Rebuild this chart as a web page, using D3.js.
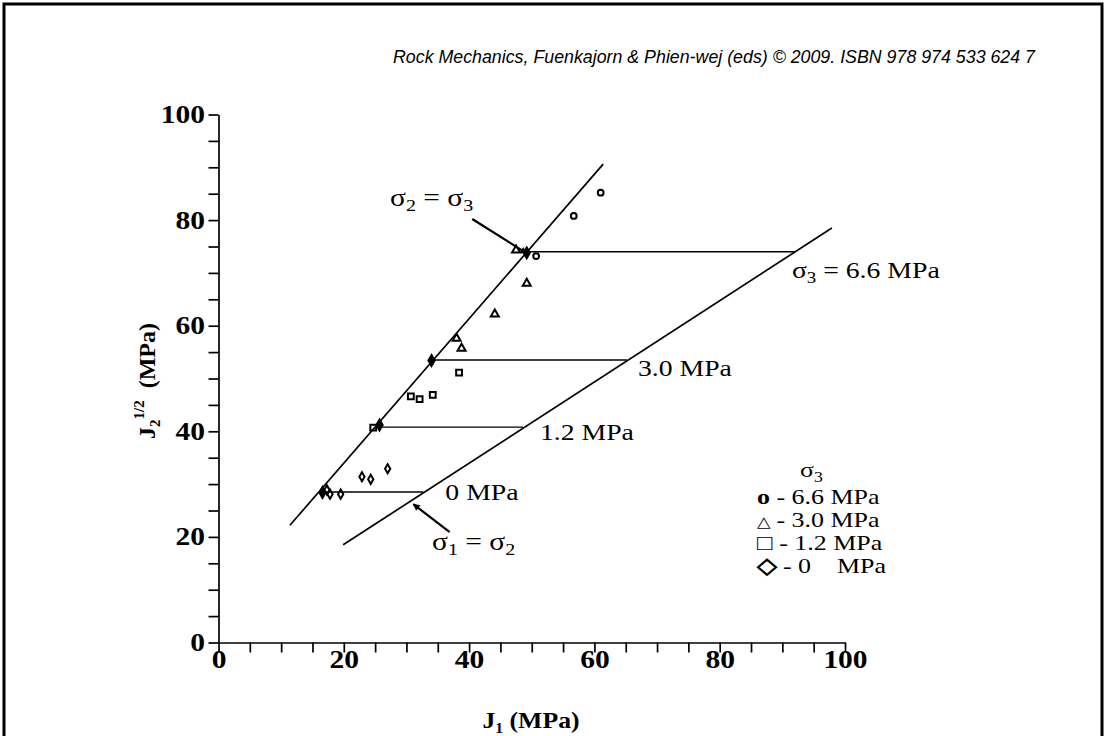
<!DOCTYPE html>
<html lang="en">
<head>
<meta charset="UTF-8">
<title>J1 - J2^1/2 stress paths</title>
<script src="https://d3js.org/d3.v7.min.js"></script>
<style>
  body { margin: 0; background: #fff; }
  svg text { fill: #000; }
</style>
</head>
<body>
<div id="chart"></div>
<script>
// test points, one array per confining pressure (J1, J2^1/2 in MPa)
const pts66 = [[50.7, 73.2], [56.7, 80.8], [61.0, 85.2]];
const pts30 = [[38.0, 57.6], [38.8, 55.7], [44.1, 62.2], [49.2, 68.0], [47.5, 74.3]];
const pts12 = [[24.7, 40.7], [30.7, 46.6], [32.1, 46.1], [34.2, 46.9], [38.4, 51.1]];
const pts00 = [[17.3, 28.9], [17.8, 28.1], [19.5, 28.1], [22.9, 31.4], [24.3, 30.9], [27.0, 32.9]];
// points where each stress path reaches sigma2 = sigma3
const onMeridian = [[16.6, 28.4], [25.7, 41.2], [34.0, 53.4], [49.2, 73.8]];

// the two envelope lines
const compLine = [[11.4, 22.2], [61.4, 90.6]];   // sigma2 = sigma3
const extLine = [[19.9, 18.5], [97.9, 78.5]];    // sigma1 = sigma2

// horizontal stress paths
const pathY = [28.5, 40.8, 53.5, 74.0];
const pathX0 = [16.6, 25.5, 34.0, 49.2];
const pathX1 = [32.7, 48.6, 65.2, 92.0];
const pathLabel = ["0 MPa", "1.2 MPa", "3.0 MPa", "6.6 MPa"];

const legendSym = ["o", "\u25B3", "\u25A1", "\u25C7"];
const legendText = ["6.6 MPa", "3.0 MPa", "1.2 MPa", "0    MPa"];

const majorTicks = [0, 20, 40, 60, 80, 100];
const allTicks = d3.range(0, 101, 5);

const W = 1106, H = 736;
const serif = "'Liberation Serif', 'Times New Roman', serif";
const SX = 1.18; // the figure's lettering is a bit wide

const svg = d3.select("#chart").append("svg")
    .attr("width", W).attr("height", H);

svg.append("rect")
    .attr("x", 4).attr("y", 4).attr("width", 1098).attr("height", 760)
    .attr("fill", "none").attr("stroke", "#000").attr("stroke-width", 3);

svg.append("text")
    .attr("x", 393).attr("y", 63)
    .attr("font-family", "'Liberation Sans Narrow', 'Liberation Sans', Arial, sans-serif")
    .attr("font-style", "italic")
    .attr("font-size", 17.5)
    .attr("textLength", 642).attr("lengthAdjust", "spacingAndGlyphs")
    .text("Rock Mechanics, Fuenkajorn & Phien-wej (eds) \u00A9 2009. ISBN 978 974 533 624 7");

// text helper, stretched horizontally
function wideText(px, py, size, sx) {
  return svg.append("g").attr("transform", `translate(${px},${py}) scale(${sx},1)`)
    .append("text").attr("font-family", serif).attr("font-size", size)
    .attr("xml:space", "preserve");
}

const x = d3.scaleLinear().domain([0, 100]).range([218.5, 845]);
const y = d3.scaleLinear().domain([0, 100]).range([642.5, 114.5]);

const fmt = d => majorTicks.includes(d) ? d : "";

const gx = svg.append("g").attr("transform", `translate(0,${y(0)})`)
    .call(d3.axisBottom(x).tickValues(allTicks).tickFormat(fmt).tickSize(10).tickSizeOuter(0).tickPadding(-2));
const gy = svg.append("g").attr("transform", `translate(${x(0)},0)`)
    .call(d3.axisLeft(y).tickValues(allTicks).tickFormat(fmt).tickSize(10).tickSizeOuter(0).tickPadding(1.5));

[gx, gy].forEach(g => {
  g.selectAll("path, line").attr("stroke", "#000").attr("stroke-width", 1.7);
  g.selectAll("text").attr("font-family", serif).attr("font-weight", "bold")
    .attr("font-size", 25).attr("fill", "#000")
    .attr("transform", `scale(${SX},1)`);
});

// axis titles
const xt = wideText(531, 728, 23, 1.12).attr("text-anchor", "middle").attr("font-weight", "bold");
xt.append("tspan").text("J");
xt.append("tspan").attr("font-size", 14).attr("dy", 5).text("1");
xt.append("tspan").attr("dy", -5).text(" (MPa)");

const yt = svg.append("text")
    .attr("transform", "translate(155,381) rotate(-90)")
    .attr("text-anchor", "middle").attr("font-family", serif)
    .attr("font-weight", "bold").attr("font-size", 24)
    .attr("xml:space", "preserve");
yt.append("tspan").text("J");
yt.append("tspan").attr("font-size", 15).attr("dy", 5).text("2");
yt.append("tspan").attr("font-size", 15).attr("dy", -16).text("1/2");
yt.append("tspan").attr("dy", 11).text("  (MPa)");

// lines
const line = d3.line().x(d => x(d[0])).y(d => y(d[1]));
[compLine, extLine].forEach(l => {
  svg.append("path").attr("d", line(l)).attr("fill", "none")
    .attr("stroke", "#000").attr("stroke-width", 1.7);
});

svg.selectAll(".spath").data(pathY).enter().append("line")
    .attr("x1", (d, i) => x(pathX0[i])).attr("x2", (d, i) => x(pathX1[i]))
    .attr("y1", d => y(d)).attr("y2", d => y(d))
    .attr("stroke", "#000").attr("stroke-width", 1.4);

// labels of the stress paths
const labOff = [[22, 8], [17, 13], [11, 16], [-3, 26]];
pathLabel.forEach((t, i) => {
  const tx = wideText(x(pathX1[i]) + labOff[i][0], y(pathY[i]) + labOff[i][1], 23.5, SX);
  if (i === 3) {
    tx.append("tspan").text("\u03C3");
    tx.append("tspan").attr("font-size", 16).attr("dy", 5).text("3");
    tx.append("tspan").attr("dy", -5).text(" = " + t);
  } else {
    tx.text(t);
  }
});

// markers
const mk = (type, size) => d3.symbol().type(type).size(size);
function plot(data, type, size, filled) {
  svg.append("g").selectAll("path").data(data).enter().append("path")
      .attr("transform", d => `translate(${x(d[0])},${y(d[1])})`)
      .attr("d", mk(type, size))
      .attr("fill", filled ? "#000" : "none")
      .attr("stroke", "#000").attr("stroke-width", 2);
}
plot(pts66, d3.symbolCircle, 26, false);
plot(pts30, d3.symbolTriangle, 28, false);
plot(pts12, d3.symbolSquare, 34, false);
plot(pts00, d3.symbolDiamond, 24, false);
plot(onMeridian, d3.symbolDiamond, 34, true);

// arrows
svg.append("defs").append("marker")
    .attr("id", "head").attr("viewBox", "0 0 10 10")
    .attr("refX", 9).attr("refY", 5)
    .attr("markerWidth", 8).attr("markerHeight", 7)
    .attr("markerUnits", "userSpaceOnUse")
    .attr("orient", "auto")
  .append("path").attr("d", "M0,0L10,5L0,10z").attr("fill", "#000");

const arrows = [[[40.5, 80.2], [49.2, 73.7]], [[36.9, 20.9], [31.1, 26.2]]];
arrows.forEach(a => {
  svg.append("path").attr("d", line(a)).attr("stroke", "#000")
      .attr("stroke-width", 2.2).attr("marker-end", "url(#head)");
});

function sigmaEq(px, py, a, b) {
  const t = wideText(px, py, 25, SX);
  t.append("tspan").text("\u03C3");
  t.append("tspan").attr("font-size", 17).attr("dy", 5).text(a);
  t.append("tspan").attr("dy", -5).text(" = \u03C3");
  t.append("tspan").attr("font-size", 17).attr("dy", 5).text(b);
}
sigmaEq(390, 206, "2", "3");
sigmaEq(432, 550, "1", "2");

// legend
const lt = wideText(800, 477, 22, SX);
lt.append("tspan").text("\u03C3");
lt.append("tspan").attr("font-size", 15).attr("dy", 5).text("3");
legendText.forEach((t, i) => {
  const row = wideText(757, 504 + i * 23, 22, SX);
  const sym = row.append("tspan").text(legendSym[i]);
  if (i === 0) sym.attr("font-weight", "bold");
  if (i === 1) sym.attr("font-size", 15);
  if (i === 3) sym.attr("font-weight", "bold");
  row.append("tspan").attr("font-size", 22).text(" - " + t);
});
</script>
</body>
</html>
